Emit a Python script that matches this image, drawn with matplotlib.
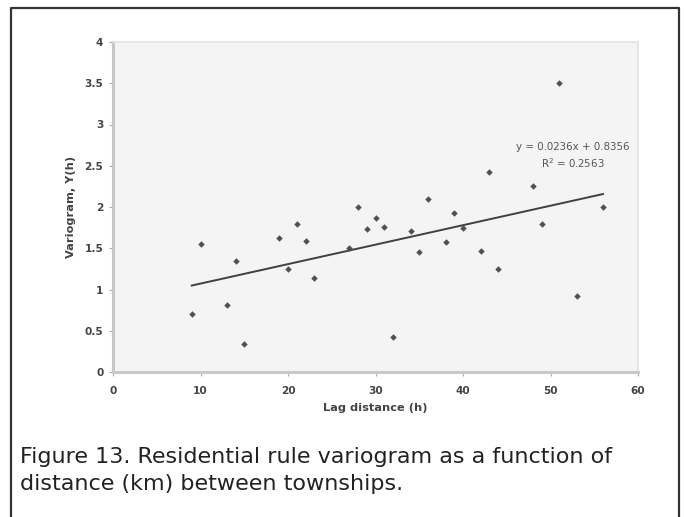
import numpy as np
import matplotlib
matplotlib.use("Agg")
import matplotlib.pyplot as plt
from matplotlib.lines import Line2D

# lag distance (km) and variogram value for each township pair class
lag = [9, 10, 13, 14, 15, 19, 20, 21, 22, 23, 27, 28, 29, 30, 31, 32,
       34, 35, 36, 38, 39, 40, 42, 43, 44, 48, 49, 51, 53, 56]
gamma = [0.70, 1.55, 0.81, 1.34, 0.34, 1.62, 1.25, 1.80, 1.59, 1.14,
         1.50, 2.00, 1.73, 1.87, 1.76, 0.42, 1.71, 1.46, 2.10, 1.58,
         1.93, 1.75, 1.47, 2.42, 1.25, 2.25, 1.79, 3.50, 0.92, 2.00]

# linear trend as reported
slope = 0.0236
intercept = 0.8356
r2 = 0.2563

xticks = [0, 10, 20, 30, 40, 50, 60]
yticks = [0, 0.5, 1, 1.5, 2, 2.5, 3, 3.5, 4]
ytick_labels = ["0", "0.5", "1", "1.5", "2", "2.5", "3", "3.5", "4"]

caption = ["Figure 13. Residential rule variogram as a function of",
           "distance (km) between townships."]

W, H = 684, 517
fig = plt.figure(figsize=(W / 100, H / 100), dpi=100)
fig.patch.set_facecolor("white")

# open frame around figure + caption (no bottom edge)
def px(x, y):
    return x / W, 1 - y / H

fx = [px(10.5, 0)[0], px(10.5, 0)[0], px(678.5, 0)[0], px(678.5, 0)[0]]
fy = [0, px(0, 8)[1], px(0, 8)[1], 0]
fig.add_artist(Line2D(fx, fy, transform=fig.transFigure, color="#333333", lw=1.6))

l, r = 113 / W, 638 / W
b, t = 1 - 372 / H, 1 - 42 / H
ax = fig.add_axes([l, b, r - l, t - b])
ax.set_facecolor("#f4f4f4")

ax.scatter(lag, gamma, marker="D", s=11, color="#505050", zorder=3, linewidths=0)
xs = np.array([min(lag), max(lag)])
ax.plot(xs, slope * xs + intercept, color="#404040", lw=1.4, zorder=2)

ax.text(52.5, 2.62, f"y = {slope}x + {intercept}\nR$^2$ = {r2}", ha="center", va="center",
        fontsize=7.4, color="#555555", family="DejaVu Sans", linespacing=1.35)

ax.set_xlim(0, 60)
ax.set_ylim(0, 4)
ax.set_xticks(xticks)
ax.set_yticks(yticks)
ax.set_yticklabels(ytick_labels)
for lab in ax.get_xticklabels() + ax.get_yticklabels():
    lab.set_fontweight("bold")
    lab.set_family("DejaVu Sans")
    lab.set_color("#444444")
ax.tick_params(axis="both", labelsize=7.6, length=3, width=0.8, color="#aaaaaa")
ax.tick_params(axis="x", pad=7)
ax.tick_params(axis="y", pad=4)

for side in ("left", "bottom"):
    ax.spines[side].set_color("#c8c8c8")
    ax.spines[side].set_linewidth(2.2)
for side in ("top", "right"):
    ax.spines[side].set_color("#e2e2e2")
    ax.spines[side].set_linewidth(1.2)

ax.set_xlabel("Lag distance (h)", fontsize=8.2, fontweight="bold", color="#444444",
              family="DejaVu Sans", labelpad=5)
ax.set_ylabel("Variogram, Y(h)", fontsize=8.2, fontweight="bold", color="#444444",
              family="DejaVu Sans", labelpad=6)

fig.text(20 / W, 1 - 463 / H, caption[0], fontsize=16, color="#222222",
         family="DejaVu Sans", va="baseline", ha="left")
fig.text(20 / W, 1 - 490 / H, caption[1], fontsize=16, color="#222222",
         family="DejaVu Sans", va="baseline", ha="left")

fig.savefig("out.png", dpi=100)
